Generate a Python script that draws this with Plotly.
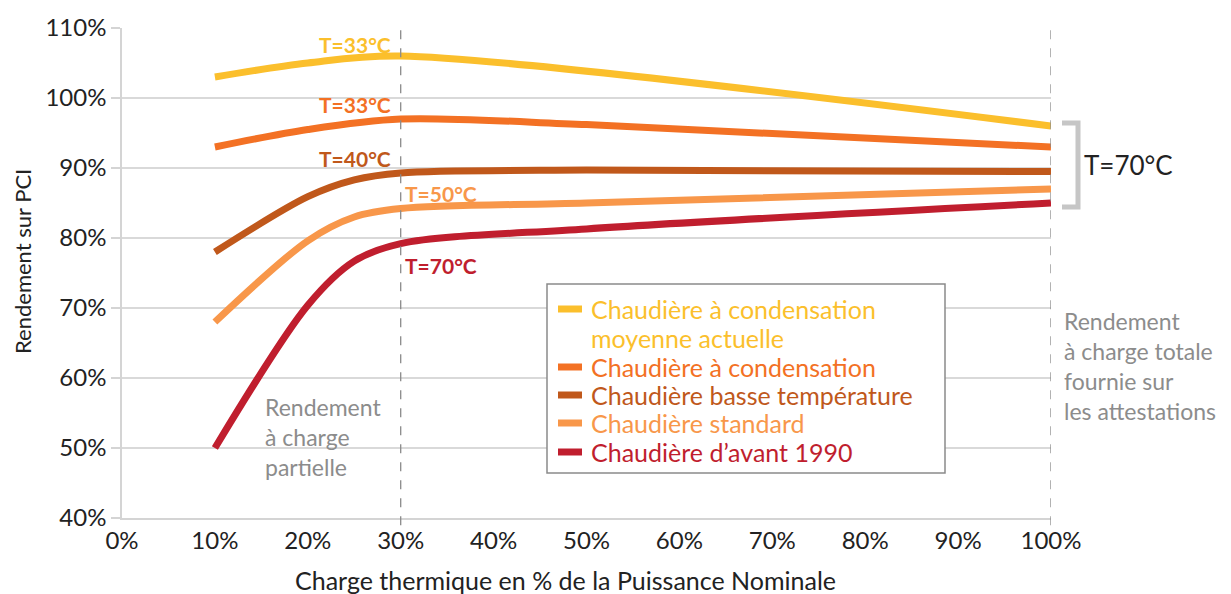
import plotly.graph_objects as go

# Data (charge % -> rendement %)
x_yellow = [10, 20, 30, 100]
y_yellow = [103, 105, 106, 96]

x_orange = [10, 20, 30, 50, 100]
y_orange = [93, 95.5, 97, 96.2, 93]

x_brown = [10, 20, 25, 30, 50, 100]
y_brown = [78, 85.9, 88.3, 89.3, 89.7, 89.5]

x_lorange = [10, 20, 25, 30, 50, 100]
y_lorange = [68, 79.6, 83.0, 84.2, 85, 87]

x_red = [10, 20, 25, 30, 50, 100]
y_red = [50, 70.4, 76.7, 79.2, 81.3, 85]

names = [
    "Chaudière à condensation<br>moyenne actuelle",
    "Chaudière à condensation",
    "Chaudière basse température",
    "Chaudière standard",
    "Chaudière d’avant 1990",
]
colors = ["#FBBF2C", "#F37124", "#C0581B", "#F8974A", "#C01E2E"]

x_ticks = [0, 10, 20, 30, 40, 50, 60, 70, 80, 90, 100]
y_ticks = [40, 50, 60, 70, 80, 90, 100, 110]

series = [
    (x_yellow, y_yellow),
    (x_orange, y_orange),
    (x_brown, y_brown),
    (x_lorange, y_lorange),
    (x_red, y_red),
]

FONT = "Lato, 'Noto Sans', sans-serif"

# pixel helpers for layout placement (plot area 122..1051 x 28..518)
def px(x):
    return (x - 122) / 929

def py(y):
    return (518 - y) / 490

fig = go.Figure()
for (xs, ys), name, col in zip(series, names, colors):
    fig.add_trace(go.Scatter(
        x=xs, y=ys, mode="lines", name=name.replace("<br>", " "), showlegend=False,
        line=dict(color=col, width=7, shape="spline", smoothing=0.9),
    ))

# temperature labels
temp_labels = [
    (25.1, 107.7, "T=33°C", colors[0]),
    (25.1, 99.1, "T=33°C", colors[1]),
    (25.1, 91.4, "T=40°C", colors[2]),
    (34.3, 86.4, "T=50°C", colors[3]),
    (34.3, 76.1, "T=70°C", colors[4]),
]
annotations = []
for x, y, t, c in temp_labels:
    annotations.append(dict(x=x, y=y, xref="x", yref="y", text=f"<b>{t}</b>",
                            showarrow=False, font=dict(family=FONT, size=21, color=c)))

annotations += [
    dict(x=px(263), y=py(391), xref="paper", yref="paper",
         xanchor="left", yanchor="top", align="left", showarrow=False,
         text="Rendement<br>à charge<br>partielle",
         font=dict(family=FONT, size=23, color="#8c8c8c")),
    dict(x=px(1062), y=py(305), xref="paper", yref="paper",
         xanchor="left", yanchor="top", align="left", showarrow=False,
         text="Rendement<br>à charge totale<br>fournie sur<br>les attestations",
         font=dict(family=FONT, size=23, color="#8c8c8c")),
    dict(x=px(1082), y=py(165), xref="paper", yref="paper",
         xanchor="left", yanchor="middle", showarrow=False, text="T=70°C",
         font=dict(family=FONT, size=26, color="#222222")),
    dict(x=px(565), y=py(580), xref="paper", yref="paper",
         xanchor="center", yanchor="middle", showarrow=False,
         text="Charge thermique en % de la Puissance Nominale",
         font=dict(family=FONT, size=25, color="#222222")),
    dict(x=px(22), y=py(262), xref="paper", yref="paper",
         xanchor="center", yanchor="middle", showarrow=False, textangle=-90,
         text="Rendement sur PCI",
         font=dict(family=FONT, size=22, color="#222222")),
]

shapes = [
    dict(type="line", xref="x", yref="paper", x0=30, x1=30, y0=-0.015, y1=1,
         line=dict(color="#8a8a8a", width=1.3, dash="dash"), layer="above"),
    dict(type="line", xref="x", yref="paper", x0=100, x1=100, y0=-0.015, y1=1,
         line=dict(color="#8a8a8a", width=1.3, dash="dash"), layer="above"),
    dict(type="path", xref="paper", yref="paper",
         path=f"M {px(1062)},{py(123)} L {px(1078)},{py(123)} "
              f"L {px(1078)},{py(207)} L {px(1062)},{py(207)}",
         line=dict(color="#c6c6c6", width=5)),
    # legend box
    dict(type="rect", xref="paper", yref="paper", x0=px(547), x1=px(945),
         y0=py(473), y1=py(284), fillcolor="white",
         line=dict(color="#8a8a8a", width=1.5), layer="above"),
]

# legend entries (symbol + coloured text)
legend_rows = [309, 367, 395, 423, 452]
for name, col, ry in zip(names, colors, legend_rows):
    shapes.append(dict(type="line", xref="paper", yref="paper",
                       x0=px(558), x1=px(582), y0=py(ry), y1=py(ry),
                       line=dict(color=col, width=7), layer="above"))
    for i, part in enumerate(name.split("<br>")):
        annotations.append(dict(x=px(589), y=py(ry + 28.5 * i), xref="paper", yref="paper",
                                xanchor="left", yanchor="middle", showarrow=False,
                                text=part, font=dict(family=FONT, size=25, color=col)))

fig.update_layout(
    width=1231, height=594,
    margin=dict(l=122, r=180, t=28, b=76),
    plot_bgcolor="white", paper_bgcolor="white",
    font=dict(family=FONT, size=24, color="#222222"),
    showlegend=False,
    xaxis=dict(range=[0, 100], tickvals=x_ticks, ticktext=[f"{v}%" for v in x_ticks],
               showgrid=False, zeroline=False, showline=True, linecolor="#d4d4d4",
               linewidth=1.5, ticks="", tickfont=dict(size=24, color="#222222")),
    yaxis=dict(range=[40, 110], tickvals=y_ticks, ticktext=[f"{v}%" for v in y_ticks],
               showgrid=True, gridcolor="#d9d9d9", gridwidth=1.5, zeroline=False,
               showline=True, linecolor="#d4d4d4", linewidth=1.5,
               ticks="outside", ticklen=9, tickcolor="#d4d4d4", tickwidth=1.5,
               tickfont=dict(size=24, color="#222222")),
    annotations=annotations,
    shapes=shapes,
)

fig.write_html("out.html", config={"displayModeBar": False},
               post_script="document.body.style.margin='0';document.body.style.padding='0';")
